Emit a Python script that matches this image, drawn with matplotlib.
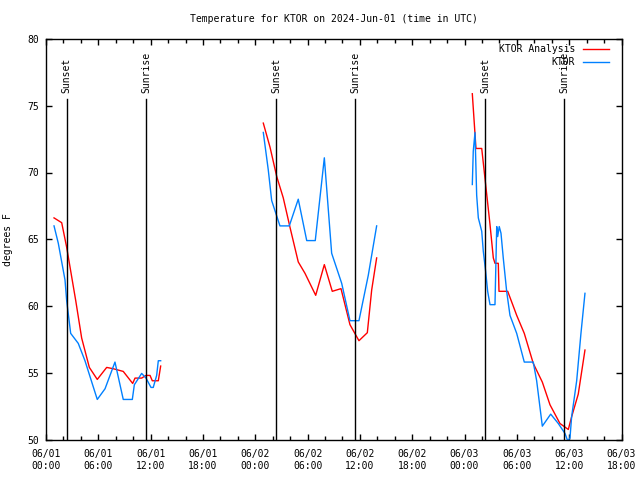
import numpy as np
import matplotlib
matplotlib.use("Agg")
import matplotlib.pyplot as plt
from matplotlib.ticker import FixedLocator, MultipleLocator

# hours since 06/01 00:00 UTC
an1_h = [0.92, 1.80, 2.37, 3.41, 4.09, 4.97, 5.88, 6.96, 7.72, 8.86, 9.94, 10.21, 10.97, 11.47, 11.93, 12.19, 12.88, 13.15]
an1_t = [66.6, 66.24, 64.4, 60.4, 57.6, 55.4, 54.5, 55.4, 55.3, 55.1, 54.2, 54.6, 54.6, 54.8, 54.8, 54.4, 54.4, 55.5]
ob1_h = [0.92, 1.41, 2.18, 2.37, 2.83, 3.70, 4.47, 5.88, 6.77, 7.91, 8.86, 9.90, 10.13, 10.97, 11.47, 12.04, 12.30, 12.69, 12.88, 13.15]
ob1_t = [66.0, 64.7, 61.95, 60.4, 57.95, 57.2, 55.9, 53.0, 53.8, 55.8, 53.0, 53.0, 54.1, 54.95, 54.6, 53.9, 53.9, 54.8, 55.9, 55.9]

an2_h = [24.92, 25.69, 26.46, 27.21, 27.98, 28.93, 29.70, 30.93, 31.92, 32.83, 33.83, 34.86, 35.89, 36.85, 37.35, 37.92]
an2_t = [73.7, 71.9, 69.7, 68.1, 65.9, 63.3, 62.45, 60.8, 63.1, 61.1, 61.3, 58.6, 57.4, 58.0, 61.2, 63.6]
ob2_h = [24.92, 25.49, 25.88, 26.83, 27.90, 28.93, 29.90, 30.88, 31.92, 32.76, 33.91, 34.86, 35.89, 36.96, 37.92]
ob2_t = [73.0, 70.2, 67.9, 66.0, 66.0, 68.0, 64.9, 64.9, 71.1, 63.95, 61.7, 58.9, 58.9, 62.3, 66.0]

an3_h = [48.89, 49.31, 49.97, 50.42, 50.92, 51.30, 51.49, 51.87, 51.95, 52.95, 53.98, 54.85, 55.88, 56.92, 57.80, 58.94, 59.90, 60.28, 61.04, 61.81]
an3_t = [75.9, 71.8, 71.8, 69.1, 66.1, 63.6, 63.2, 63.2, 61.1, 61.1, 59.3, 57.95, 55.7, 54.3, 52.6, 51.2, 50.75, 51.7, 53.4, 56.7]
ob3_h = [48.89, 49.00, 49.20, 49.39, 49.58, 49.97, 50.15, 50.42, 50.65, 50.92, 51.49, 51.69, 51.80, 51.98, 52.18, 52.44, 52.83, 53.21, 53.98, 54.85, 55.88, 56.27, 56.92, 57.88, 58.75, 59.52, 59.83, 60.09, 60.28, 60.86, 61.35, 61.81]
ob3_t = [69.1, 71.6, 73.0, 68.3, 66.6, 65.6, 64.1, 62.6, 61.1, 60.1, 60.1, 65.95, 65.2, 65.95, 65.45, 63.6, 61.1, 59.3, 57.95, 55.8, 55.8, 54.4, 51.0, 51.9, 51.2, 50.45, 49.9, 50.1, 51.7, 54.4, 57.95, 60.95]

sunset_h = [2.38, 26.38, 50.38]
sunrise_h = [11.47, 35.47, 59.45]

tick_hours = [0, 6, 12, 18, 24, 30, 36, 42, 48, 54, 60, 66]
tick_labels = ["06/01\n00:00", "06/01\n06:00", "06/01\n12:00", "06/01\n18:00",
               "06/02\n00:00", "06/02\n06:00", "06/02\n12:00", "06/02\n18:00",
               "06/03\n00:00", "06/03\n06:00", "06/03\n12:00", "06/03\n18:00"]

FONT = "DejaVu Sans Mono"
FS = 7
plt.rcParams['font.family'] = FONT
plt.rcParams['font.size'] = FS

RED = "#ff0000"
BLUE = "#0080ff"

fig = plt.figure(figsize=(6.4, 4.8), dpi=100)
ax = fig.add_axes([46/640, 1-439.5/480, 575.5/640, 400.5/480])

for h, t in [(an1_h, an1_t), (an2_h, an2_t), (an3_h, an3_t)]:
    ax.plot(h, t, color=RED, lw=1.0)
for h, t in [(ob1_h, ob1_t), (ob2_h, ob2_t), (ob3_h, ob3_t)]:
    ax.plot(h, t, color=BLUE, lw=1.0)

for h in sunset_h:
    ax.plot([h, h], [50, 75.5], color="black", lw=1.0)
    ax.text(h, 75.95, "Sunset", rotation=90, ha="center", va="bottom", fontsize=FS)
for h in sunrise_h:
    ax.plot([h, h], [50, 75.5], color="black", lw=1.0)
    ax.text(h, 75.95, "Sunrise", rotation=90, ha="center", va="bottom", fontsize=FS)

ax.set_xlim(0, 66)
ax.set_ylim(50, 80)
ax.xaxis.set_major_locator(FixedLocator(tick_hours))
ax.set_xticklabels(tick_labels)
ax.xaxis.set_minor_locator(MultipleLocator(2))
ax.yaxis.set_major_locator(MultipleLocator(5))
ax.tick_params(which="both", direction="in", top=True, right=True, length=4, width=1, labelsize=FS, pad=5)
ax.tick_params(axis="x", which="minor", length=3)
ax.tick_params(axis="x", which="major", pad=7)
for s in ax.spines.values():
    s.set_linewidth(1.0)

ax.set_ylabel("degrees F", fontsize=FS, labelpad=10)
ax.set_title("Temperature for KTOR on 2024-Jun-01 (time in UTC)", fontsize=FS, pad=12)

# legend (gnuplot style, right-aligned text)
for i, (lab, col) in enumerate([("KTOR Analysis", RED), ("KTOR", BLUE)]):
    yy = 0.974 - i * 0.0325
    ax.text(0.919, yy, lab, transform=ax.transAxes, ha="right", va="center", fontsize=FS)
    ax.plot([0.9327, 0.979], [yy, yy], transform=ax.transAxes, color=col, lw=1.0, clip_on=False)

fig.savefig("out.png", dpi=100)
